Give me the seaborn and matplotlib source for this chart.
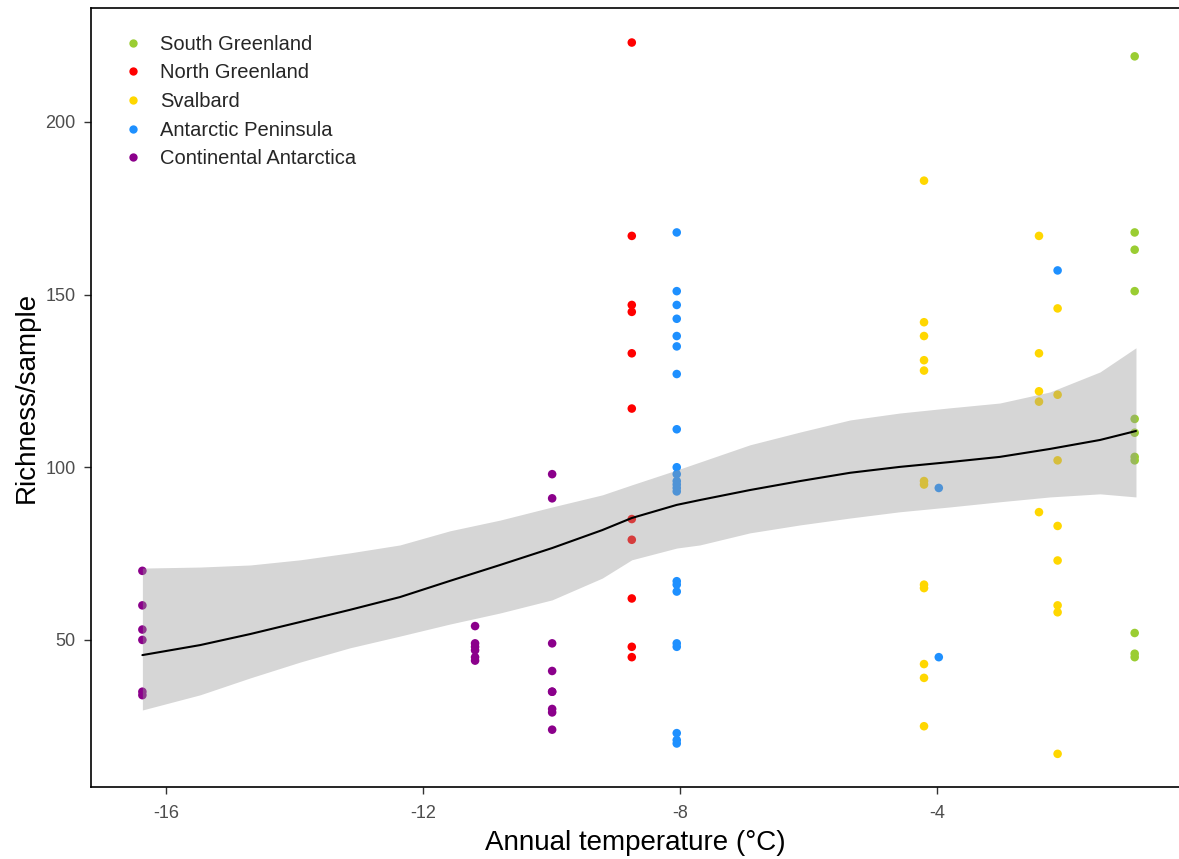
import matplotlib
matplotlib.use("Agg")
import matplotlib.pyplot as plt
import pandas as pd
import seaborn as sns

# --- data (temperature -> richness values) ---
regions = ["South Greenland", "North Greenland", "Svalbard",
           "Antarctic Peninsula", "Continental Antarctica"]
colours = ["#9ACD32", "#FF0000", "#FFD700", "#1E90FF", "#8B008B"]

south_greenland = {-0.92: [219, 168, 163, 151, 114, 110, 103, 102, 52, 46, 45]}
north_greenland = {-8.75: [223, 167, 147, 145, 133, 117, 85, 79, 62, 48, 45]}
svalbard = {
    -4.20: [183, 142, 138, 131, 128, 96, 95, 66, 65, 43, 39, 25],
    -2.41: [167, 133, 122, 119, 87],
    -2.12: [146, 121, 102, 83, 73, 60, 58, 17],
}
antarctic_peninsula = {
    -8.05: [168, 151, 147, 143, 138, 135, 127, 111, 100, 98, 96, 95, 94, 93,
            67, 66, 64, 49, 48, 23, 21, 20],
    -3.97: [94, 45],
    -2.12: [157],
}
continental_antarctica = {
    -16.37: [70, 60, 53, 50, 35, 34],
    -11.19: [54, 49, 48, 47, 45, 44],
    -9.99: [98, 91, 49, 41, 35, 35, 30, 29, 24],
}

# smoother (loess fit + 95% band)
fit_x = [-16.37, -15.47, -14.69, -13.91, -13.14, -12.36, -11.58, -10.80,
         -9.99, -9.21, -8.75, -8.05, -7.69, -6.91, -6.13, -5.35, -4.58,
         -3.80, -3.02, -2.24, -1.46, -0.90]
fit_y = [45.6, 48.5, 51.7, 55.2, 58.7, 62.4, 67.1, 71.7,
         76.6, 81.8, 85.3, 89.1, 90.5, 93.4, 96.0, 98.4, 100.1,
         101.5, 103.0, 105.3, 107.9, 110.5]
fit_hi = [70.8, 71.1, 71.7, 73.2, 75.2, 77.5, 81.6, 84.7,
          88.5, 92.0, 94.9, 99.2, 101.5, 106.5, 110.2, 113.7, 115.7,
          117.2, 118.6, 121.8, 127.6, 134.6]
fit_lo = [29.7, 34.1, 39.0, 43.6, 47.7, 51.1, 54.6, 57.8,
          61.6, 67.9, 73.2, 76.6, 77.5, 81.0, 83.3, 85.3, 87.1,
          88.5, 90.0, 91.4, 92.3, 91.4]

rows = []
for name, groups in zip(regions, [south_greenland, north_greenland, svalbard,
                                  antarctic_peninsula, continental_antarctica]):
    for temp, vals in groups.items():
        for v in vals:
            rows.append({"Region": name, "Temp": temp, "Richness": v})
df = pd.DataFrame(rows)

sns.set_theme(style="ticks")
plt.rcParams["font.family"] = ["Liberation Sans", "DejaVu Sans"]
plt.rcParams["axes.unicode_minus"] = False

fig = plt.figure(figsize=(11.79, 8.59), dpi=100)
ax = fig.add_axes([91 / 1179, 72 / 859, 1088 / 1179, 779 / 859])

sns.scatterplot(data=df, x="Temp", y="Richness", hue="Region",
                hue_order=regions, palette=colours, s=38, linewidth=0,
                ax=ax, zorder=2)

# band drawn over the points, like geom_smooth
ax.fill_between(fit_x, fit_lo, fit_hi, color="#999999", alpha=0.4,
                linewidth=0, zorder=3)
ax.plot(fit_x, fit_y, color="black", linewidth=1.5, zorder=4)

ax.set_xlim(-17.17, -0.23)
ax.set_ylim(7.4, 233.0)
ax.set_xticks([-16, -12, -8, -4])
ax.set_yticks([50, 100, 150, 200])
ax.tick_params(axis="both", labelsize=13, labelcolor="#4D4D4D",
               color="#333333", length=5, width=1)
ax.tick_params(axis="x", pad=8)
ax.tick_params(axis="y", pad=6)

for side in ["left", "bottom", "top"]:
    ax.spines[side].set_color("black")
    ax.spines[side].set_linewidth(1.2)
ax.spines["right"].set_visible(False)

ax.set_xlabel("Annual temperature (\u00b0C)", fontsize=20, color="black",
              labelpad=6)
ax.set_ylabel("Richness/sample", fontsize=20, color="black", labelpad=4)

leg = ax.legend(loc="upper left", bbox_to_anchor=(0.007, 0.984), frameon=False,
                fontsize=14.5, handletextpad=0.35, labelspacing=0.48,
                borderaxespad=0.3)
for h in leg.legend_handles:
    h.set_markersize(6)

fig.savefig("out.png", dpi=100)
